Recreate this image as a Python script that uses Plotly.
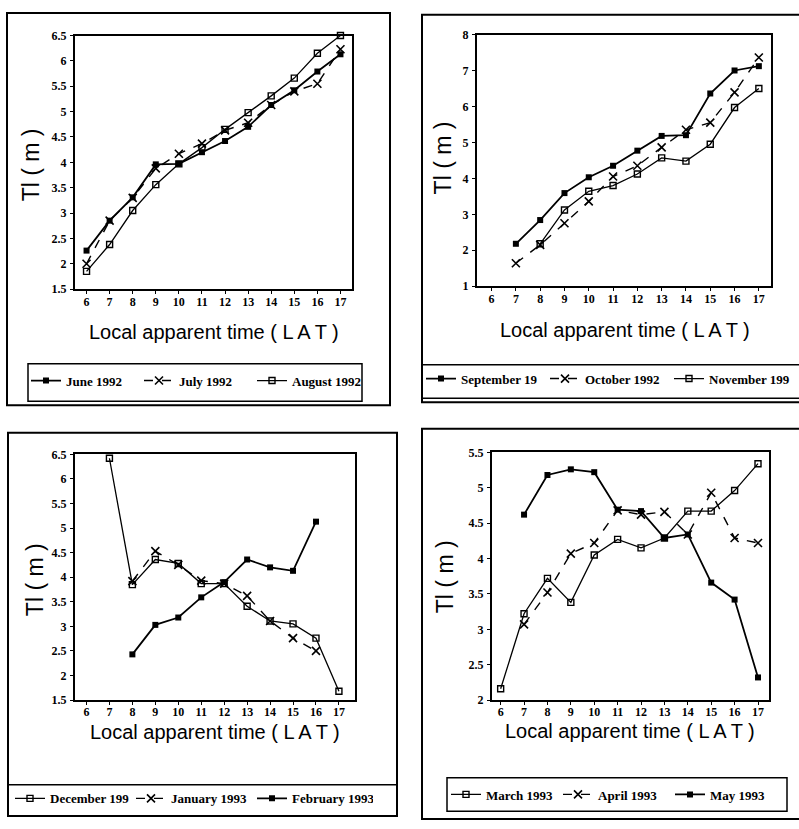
import plotly.graph_objects as go

# ---------------- data ----------------
HOURS = [6, 7, 8, 9, 10, 11, 12, 13, 14, 15, 16, 17]
X_TICKS = [6, 7, 8, 9, 10, 11, 12, 13, 14, 15, 16, 17]

june_1992 = [2.26, 2.85, 3.31, 3.96, 3.97, 4.20, 4.42, 4.70, 5.13, 5.42, 5.79, 6.13]
july_1992 = [2.00, 2.85, 3.30, 3.88, 4.17, 4.37, 4.63, 4.78, 5.13, 5.40, 5.55, 6.23]
august_1992 = [1.85, 2.38, 3.05, 3.56, 3.97, 4.29, 4.65, 4.98, 5.31, 5.66, 6.15, 6.50]

september_1992 = [None, 2.18, 2.84, 3.59, 4.03, 4.35, 4.77, 5.18, 5.20, 6.36, 7.00, 7.12]
october_1992 = [None, 1.64, 2.15, 2.75, 3.36, 4.05, 4.35, 4.86, 5.35, 5.55, 6.39, 7.36]
november_1992 = [None, None, 2.18, 3.12, 3.64, 3.80, 4.12, 4.57, 4.48, 4.95, 5.97, 6.50]

december_1992 = [None, 6.42, 3.85, 4.36, 4.28, 3.87, 3.87, 3.41, 3.11, 3.05, 2.76, 1.68]
january_1993 = [None, None, 3.92, 4.53, 4.25, 3.93, 3.87, 3.62, 3.11, 2.76, 2.50, None]
february_1993 = [None, None, 2.43, 3.03, 3.18, 3.59, 3.90, 4.36, 4.20, 4.13, 5.13, None]

march_1993 = [2.16, 3.22, 3.72, 3.38, 4.05, 4.27, 4.15, 4.29, 4.67, 4.67, 4.96, 5.34]
april_1993 = [None, 3.07, 3.52, 4.07, 4.22, 4.68, 4.62, 4.66, 4.34, 4.93, 4.29, 4.22]
may_1993 = [None, 4.62, 5.18, 5.26, 5.22, 4.69, 4.67, 4.29, 4.34, 3.66, 3.42, 2.32]

legend_names_1 = ["June 1992", "July 1992", "August 1992"]
legend_names_2 = ["September 19", "October 1992", "November 199"]
legend_names_3 = ["December 199", "January 1993", "February 1993"]
legend_names_4 = ["March 1993", "April 1993", "May 1993"]

X_TITLE = "Local apparent time ( L A T )"
Y_TITLE = "Tl ( m )"

# ---------------- layout helpers ----------------
W, H = 799, 829


def fx(x):
    return x / W


def fy(y):
    return 1 - y / H


FILLED = dict(line=dict(color="black", width=1.8),
              marker=dict(symbol="square", size=6, color="black"))
CROSS = dict(line=dict(color="black", width=1.4, dash="dash"),
             marker=dict(symbol="x-thin", size=8, color="black",
                         line=dict(color="black", width=1.6)))
HOLLOW = dict(line=dict(color="black", width=1.3),
              marker=dict(symbol="square-open", size=6, color="black",
                          line=dict(color="black", width=1.4)))

panels = [
    dict(series=[june_1992, july_1992, august_1992], names=legend_names_1,
         styles=[FILLED, CROSS, HOLLOW],
         xr=[5.5, 17.5], yr=[1.5, 6.5], dtick=0.5,
         xd=(75, 352), yd=(29, 287), legend="legend",
         leg_xy=(26, 380), entry=68,
         ytitle=(31, 161), xtitle=(214, 331)),
    dict(series=[september_1992, october_1992, november_1992], names=legend_names_2,
         styles=[FILLED, CROSS, HOLLOW],
         xr=[5.4, 17.5], yr=[1, 8], dtick=1,
         xd=(477, 771), yd=(28, 284), legend="legend2",
         leg_xy=(421, 378), entry=79,
         ytitle=(443, 153), xtitle=(625, 329)),
    dict(series=[december_1992, january_1993, february_1993], names=legend_names_3,
         styles=[HOLLOW, CROSS, FILLED],
         xr=[5.5, 17.7], yr=[1.5, 6.5], dtick=0.5,
         xd=(75, 355), yd=(455, 705), legend="legend3",
         leg_xy=(10, 805), entry=76,
         ytitle=(35, 583), xtitle=(215, 737)),
    dict(series=[march_1993, april_1993, may_1993], names=legend_names_4,
         styles=[HOLLOW, CROSS, FILLED],
         xr=[5.63, 17.47], yr=[2, 5.5], dtick=0.5,
         xd=(492, 769), yd=(453, 705), legend="legend4",
         leg_xy=(446, 801), entry=67,
         ytitle=(445, 580), xtitle=(630, 736)),
]

TICK_FONT = dict(family="Liberation Serif", size=12, color="black", weight="bold")
LEG_FONT = dict(family="Liberation Serif", size=13, color="black", weight="bold")

fig = go.Figure()
annotations = []
shapes = []
layout = {}

for i, p in enumerate(panels, start=1):
    sfx = "" if i == 1 else str(i)
    xa, ya = "x" + sfx, "y" + sfx
    for vals, name, st in zip(p["series"], p["names"], p["styles"]):
        fig.add_trace(go.Scatter(
            x=HOURS, y=vals, name=name, mode="lines+markers",
            xaxis=xa, yaxis=ya, legend=p["legend"],
            line=st["line"], marker=st["marker"], cliponaxis=False,
        ))
    axis_common = dict(showline=True, mirror=True, linecolor="black", linewidth=2,
                       ticks="outside", ticklen=3, tickwidth=1, tickcolor="black",
                       showgrid=False, zeroline=False, tickfont=TICK_FONT, fixedrange=True)
    layout["xaxis" + sfx] = dict(domain=[fx(p["xd"][0]), fx(p["xd"][1])], range=p["xr"],
                                 anchor=ya, tickvals=X_TICKS, ticklabelstandoff=-3,
                                 **axis_common)
    layout["yaxis" + sfx] = dict(domain=[fy(p["yd"][1]), fy(p["yd"][0])], range=p["yr"],
                                 anchor=xa, dtick=p["dtick"], tick0=0, ticklabelstandoff=1,
                                 **axis_common)
    layout[p["legend"]] = dict(orientation="h", x=fx(p["leg_xy"][0]), y=fy(p["leg_xy"][1]),
                               xanchor="left", yanchor="middle", xref="paper", yref="paper",
                               font=LEG_FONT, bgcolor="rgba(0,0,0,0)", itemwidth=30,
                               entrywidth=p["entry"], entrywidthmode="pixels",
                               tracegroupgap=0)
    annotations.append(dict(text=Y_TITLE, x=fx(p["ytitle"][0]), y=fy(p["ytitle"][1]),
                            xref="paper", yref="paper", showarrow=False, textangle=-90,
                            xanchor="center", yanchor="middle",
                            font=dict(family="Liberation Sans", size=23, color="black")))
    annotations.append(dict(text=X_TITLE, x=fx(p["xtitle"][0]), y=fy(p["xtitle"][1]),
                            xref="paper", yref="paper", showarrow=False,
                            xanchor="center", yanchor="middle",
                            font=dict(family="Liberation Sans Narrow, Liberation Sans",
                                      size=20, color="black")))

# panel frames and legend boxes
frames = [(7, 6, 390, 405), (422, 8, 805, 402), (8, 433, 397, 823), (422, 429, 810, 826)]
legend_boxes = [(28, 363, 362, 401), (422, 364, 805, 398), (8, 791, 397, 823), (447, 784, 787, 818)]
for (x0, y0, x1, y1) in frames:
    shapes.append(dict(type="rect", xref="paper", yref="paper", x0=fx(x0), x1=fx(x1),
                       y0=fy(y1), y1=fy(y0), line=dict(color="black", width=2)))
for (x0, y0, x1, y1) in legend_boxes:
    shapes.append(dict(type="rect", xref="paper", yref="paper", x0=fx(x0), x1=fx(x1),
                       y0=fy(y1), y1=fy(y0), line=dict(color="black", width=1.5)))

fig.update_layout(width=W, height=H, margin=dict(l=0, r=0, t=0, b=0),
                  paper_bgcolor="white", plot_bgcolor="white",
                  annotations=annotations, shapes=shapes, showlegend=True, **layout)

fig.write_html("out.html")
